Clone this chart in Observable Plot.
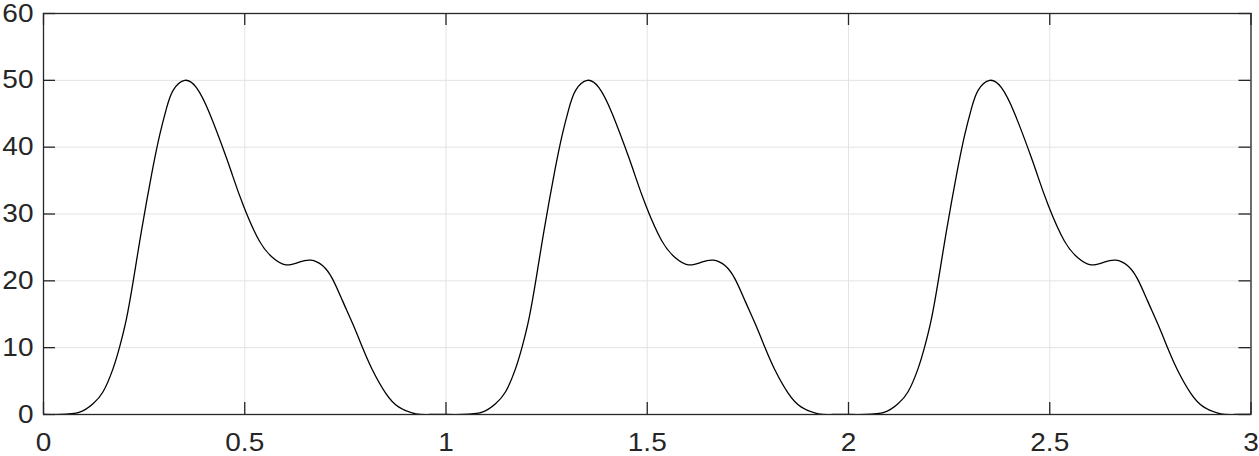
<!DOCTYPE html>
<html>
<head>
<meta charset="utf-8">
<script src="https://cdn.jsdelivr.net/npm/d3@7"></script>
<script src="https://cdn.jsdelivr.net/npm/@observablehq/plot@0.6"></script>
<style>
  html, body { margin: 0; padding: 0; background: #fff; }
  #chart svg { display: block; }
</style>
</head>
<body>
<div id="chart"></div>
<script>
// Waveform values (three identical cycles)
const xValues = [
  0, 0.041, 0.09, 0.123, 0.148, 0.173, 0.19, 0.206, 0.223, 0.239, 0.256, 0.272, 0.289, 0.305, 0.322, 0.351, 0.38, 0.413, 0.454, 0.47, 0.497, 0.536, 0.569, 0.602, 0.635, 0.664, 0.693, 0.718, 0.743, 0.768, 0.792, 0.817, 0.85, 0.883, 0.925, 0.96,
  1.0, 1.041, 1.09, 1.123, 1.148, 1.173, 1.19, 1.206, 1.223, 1.239, 1.256, 1.272, 1.289, 1.305, 1.322, 1.351, 1.38, 1.413, 1.454, 1.47, 1.497, 1.536, 1.569, 1.602, 1.635, 1.664, 1.693, 1.718, 1.743, 1.768, 1.792, 1.817, 1.85, 1.883, 1.925, 1.96,
  2.0, 2.041, 2.09, 2.123, 2.148, 2.173, 2.19, 2.206, 2.223, 2.239, 2.256, 2.272, 2.289, 2.305, 2.322, 2.351, 2.38, 2.413, 2.454, 2.47, 2.497, 2.536, 2.569, 2.602, 2.635, 2.664, 2.693, 2.718, 2.743, 2.768, 2.792, 2.817, 2.85, 2.883, 2.925, 2.96,
  3.0
];
const yValues = [
  0, 0, 0.35, 1.6, 3.4, 6.9, 10.3, 14.3, 20.0, 25.9, 31.8, 37.0, 41.9, 45.7, 48.5, 50.0, 48.9, 45.0, 38.5, 35.7, 31.2, 26.0, 23.5, 22.4, 22.8, 23.1, 22.3, 20.3, 17.0, 13.6, 10.1, 6.7, 3.2, 1.1, 0.1, 0,
  0, 0, 0.35, 1.6, 3.4, 6.9, 10.3, 14.3, 20.0, 25.9, 31.8, 37.0, 41.9, 45.7, 48.5, 50.0, 48.9, 45.0, 38.5, 35.7, 31.2, 26.0, 23.5, 22.4, 22.8, 23.1, 22.3, 20.3, 17.0, 13.6, 10.1, 6.7, 3.2, 1.1, 0.1, 0,
  0, 0, 0.35, 1.6, 3.4, 6.9, 10.3, 14.3, 20.0, 25.9, 31.8, 37.0, 41.9, 45.7, 48.5, 50.0, 48.9, 45.0, 38.5, 35.7, 31.2, 26.0, 23.5, 22.4, 22.8, 23.1, 22.3, 20.3, 17.0, 13.6, 10.1, 6.7, 3.2, 1.1, 0.1, 0,
  0
];
const xTicks = [0, 0.5, 1, 1.5, 2, 2.5, 3];
const yTicks = [0, 10, 20, 30, 40, 50, 60];

const data = xValues.map((x, i) => ({x, y: yValues[i]}));

const W = 1259, H = 456;
const mL = 43, mR = 8.5, mT = 13, mB = 42;
const plotW = W - mL - mR, plotH = H - mT - mB;
const tickLen = 12;
const axisColor = "#262626";
const gridColor = "#e3e3e3";

const chart = Plot.plot({
  width: W,
  height: H,
  marginLeft: mL,
  marginRight: mR,
  marginTop: mT,
  marginBottom: mB,
  style: {fontFamily: "'Liberation Sans', Arial, Helvetica, sans-serif", fontSize: "25px", color: axisColor, background: "#fff"},
  x: {domain: [0, 3]},
  y: {domain: [0, 60]},
  marks: [
    Plot.gridX(xTicks, {stroke: gridColor, strokeOpacity: 1, strokeWidth: 1}),
    Plot.gridY(yTicks, {stroke: gridColor, strokeOpacity: 1, strokeWidth: 1}),
    Plot.line(data, {x: "x", y: "y", stroke: "#000", strokeWidth: 1.3, curve: "natural", clip: true}),
    // inward ticks on all four sides
    Plot.tickX(xTicks, {x: d => d, stroke: axisColor, strokeWidth: 1.3, insetTop: plotH - tickLen}),
    Plot.tickX(xTicks, {x: d => d, stroke: axisColor, strokeWidth: 1.3, insetBottom: plotH - tickLen}),
    Plot.tickY(yTicks, {y: d => d, stroke: axisColor, strokeWidth: 1.3, insetRight: plotW - tickLen}),
    Plot.tickY(yTicks, {y: d => d, stroke: axisColor, strokeWidth: 1.3, insetLeft: plotW - tickLen}),
    Plot.frame({stroke: axisColor, strokeWidth: 1.3}),
    Plot.axisX(xTicks, {tickSize: 0, tickPadding: 19, tickFormat: d => String(d), label: null, fill: axisColor}),
    Plot.axisY(yTicks, {tickSize: 0, tickPadding: 10, tickFormat: d => String(d), label: null, fill: axisColor})
  ]
});
document.getElementById("chart").appendChild(chart);

// widen the tick labels slightly to match the reference's glyph proportions
chart.querySelectorAll("g[aria-label$='tick label'] text").forEach(t => {
  const len = t.getComputedTextLength();
  t.setAttribute("textLength", (len * 1.12).toFixed(2));
  t.setAttribute("lengthAdjust", "spacingAndGlyphs");
});
</script>
</body>
</html>
